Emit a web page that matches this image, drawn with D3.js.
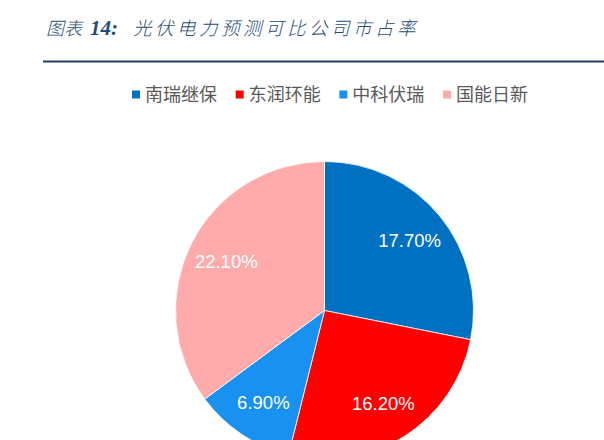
<!DOCTYPE html>
<html><head><meta charset="utf-8">
<script src="https://cdn.jsdelivr.net/npm/d3@7/dist/d3.min.js"></script>
<style>body{margin:0;background:#fff;}svg{display:block;}</style>
</head><body>
<svg id="c" width="604" height="440"></svg>
<script>
const categories = ["南瑞继保", "东润环能", "中科伏瑞", "国能日新"];
const values = [17.7, 16.2, 6.9, 22.1];
const valueLabels = ["17.70%", "16.20%", "6.90%", "22.10%"];
const colors = ["#0070C0", "#FF0000", "#1891F0", "#FFABAB"];
const titlePrefix = "图表";
const titleNum = "14:";
const titleText = "光伏电力预测可比公司市占率";

const svg = d3.select("#c");
const W = 604, H = 440;
svg.append("rect").attr("width", W).attr("height", H).attr("fill", "#fff");

// Title
const t = svg.append("text").attr("x", 46).attr("y", 35)
  .attr("fill", "#1F4E79").attr("font-style", "italic")
  .attr("font-family", "'Noto Sans CJK SC', sans-serif").attr("font-size", 18);
t.append("tspan").text(titlePrefix).attr("font-weight", 300);
t.append("tspan").text(titleNum).attr("x", 90).attr("font-weight", "bold")
  .attr("font-family", "'Liberation Serif', serif").attr("font-size", 21);
t.append("tspan").text(titleText).attr("x", 133).attr("letter-spacing", 3.5)
  .attr("font-size", 18.5).attr("font-weight", 300);

svg.append("line").attr("x1", 43).attr("x2", W).attr("y1", 61.5).attr("y2", 61.5)
  .attr("stroke", "#1F3F66").attr("stroke-width", 2);

// Legend
const lx = d3.scalePoint().domain(categories).range([132, 443]);
const lg = svg.append("g").selectAll("g").data(categories).join("g")
  .attr("transform", d => `translate(${lx(d)},95)`);
lg.append("rect").attr("x", 0).attr("y", -4.5).attr("width", 8).attr("height", 8)
  .attr("fill", (d, i) => colors[i]);
lg.append("text").attr("x", 13).attr("y", 0).attr("dy", "0.36em")
  .attr("font-family", "'Noto Sans CJK SC', sans-serif").attr("font-size", 18)
  .attr("fill", "#595959").text(d => d);

// Pie
const cx = 324.5, cy = 310.5, R = 149;
const pie = d3.pie().sort(null).value(d => d);
const arcs = pie(values);
const arc = d3.arc().innerRadius(0).outerRadius(R);
const labelArc = d3.arc().innerRadius(110).outerRadius(110);
const g = svg.append("g").attr("transform", `translate(${cx},${cy})`);
g.selectAll("path").data(arcs).join("path")
  .attr("d", arc).attr("fill", (d, i) => colors[i])
  .attr("stroke", "#fff").attr("stroke-width", 0.8);
g.selectAll("text").data(arcs).join("text")
  .attr("transform", d => `translate(${labelArc.centroid(d)})`)
  .attr("text-anchor", "middle").attr("dy", "0.36em")
  .attr("font-family", "'Liberation Sans', Arial, sans-serif").attr("font-size", 18.5)
  .attr("fill", "#fff").text((d, i) => valueLabels[i]);
</script>
</body></html>
